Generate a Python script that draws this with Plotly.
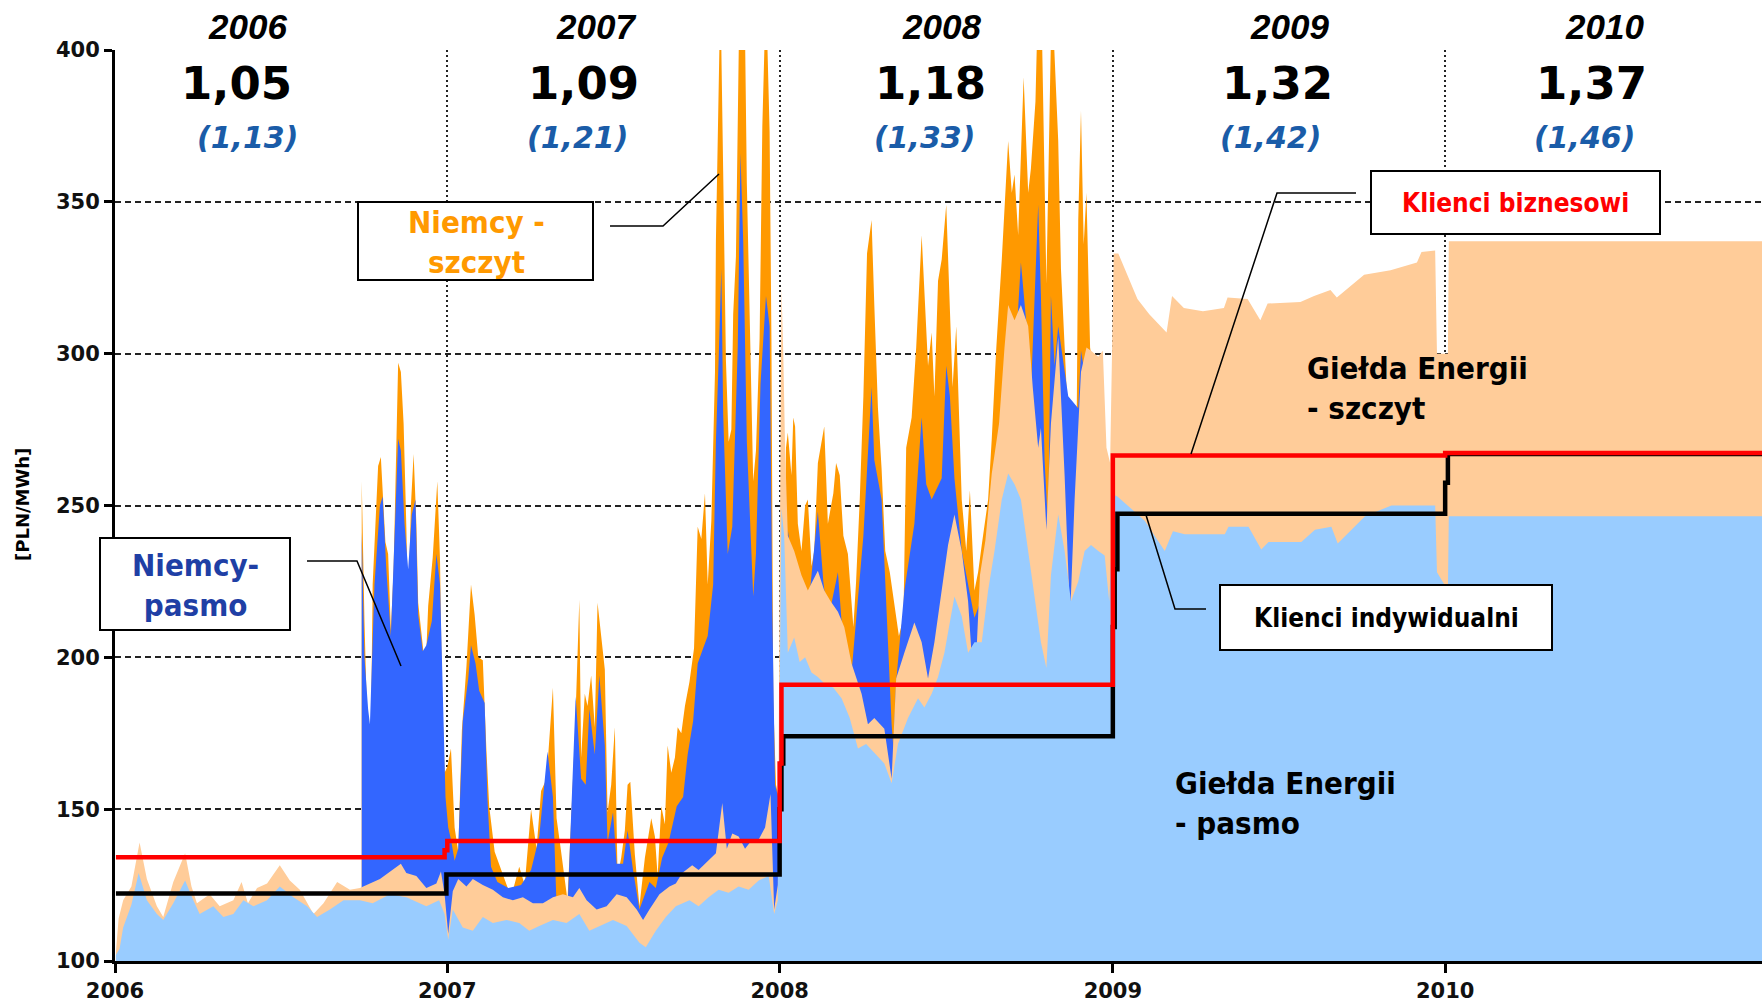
import plotly.graph_objects as go

# ---------------------------------------------------------------------------
# Price series [PLN/MWh]
# ---------------------------------------------------------------------------

# Gielda Energii - pasmo (base)
ge_base_dates = [
    "2006-01-02", "2006-01-06", "2006-01-10", "2006-01-19", "2006-01-27", "2006-02-05",
    "2006-02-16", "2006-02-23", "2006-03-06", "2006-03-19", "2006-03-28", "2006-04-04",
    "2006-04-19", "2006-04-30", "2006-05-11", "2006-05-22", "2006-06-02", "2006-06-17",
    "2006-07-01", "2006-07-16", "2006-07-31", "2006-08-11", "2006-08-25", "2006-09-09",
    "2006-09-27", "2006-10-11", "2006-10-30", "2006-11-17", "2006-12-09", "2006-12-23",
    "2006-12-29", "2007-01-02", "2007-01-07", "2007-01-18", "2007-01-29", "2007-02-09",
    "2007-02-20", "2007-03-07", "2007-03-21", "2007-04-01", "2007-04-12", "2007-04-27",
    "2007-05-12", "2007-05-26", "2007-06-06", "2007-06-17", "2007-07-02", "2007-07-17",
    "2007-07-31", "2007-08-07", "2007-08-18", "2007-08-29", "2007-09-09", "2007-09-24",
    "2007-10-04", "2007-10-15", "2007-10-26", "2007-11-06", "2007-11-17", "2007-11-28",
    "2007-12-09", "2007-12-20", "2007-12-26", "2007-12-30", "2008-01-02", "2008-01-03",
    "2008-01-06", "2008-01-10", "2008-01-17", "2008-01-23", "2008-01-29", "2008-02-05",
    "2008-02-12", "2008-02-19", "2008-02-29", "2008-03-09", "2008-03-18", "2008-03-27",
    "2008-04-05", "2008-04-14", "2008-04-25", "2008-05-03", "2008-05-10", "2008-05-21",
    "2008-06-01", "2008-06-08", "2008-06-16", "2008-06-23", "2008-06-30", "2008-07-11",
    "2008-07-19", "2008-07-26", "2008-08-02", "2008-08-10", "2008-08-17", "2008-08-24",
    "2008-09-01", "2008-09-08", "2008-09-15", "2008-09-22", "2008-09-30", "2008-10-07",
    "2008-10-14", "2008-10-20", "2008-10-25", "2008-11-02", "2008-11-09", "2008-11-16",
    "2008-11-24", "2008-12-01", "2008-12-08", "2008-12-16", "2008-12-23", "2008-12-28",
    "2009-01-02", "2009-01-06", "2009-02-05", "2009-02-27", "2009-03-08", "2009-03-21",
    "2009-05-04", "2009-05-08", "2009-05-30", "2009-06-13", "2009-06-21", "2009-07-27",
    "2009-08-11", "2009-08-29", "2009-09-05", "2009-10-05", "2009-11-03", "2009-12-21",
    "2009-12-23", "2010-01-04", "2010-01-05", "2010-12-31",
]
ge_base = [
    102, 104, 111, 118.5, 129, 120,
    115.5, 113.5, 119, 126.5, 120, 115.5,
    118, 114.5, 115.5, 120, 118, 120,
    124.5, 121, 118, 114.5, 117, 120,
    120, 119, 122, 121, 118, 120,
    115.5, 107, 117, 111, 110, 114.5,
    112.5, 113.5, 112.5, 110, 111.5, 113.5,
    112.5, 115.5, 110, 111.5, 113.5, 111.5,
    106, 104.5, 110, 114.5, 118, 120,
    118, 121, 123.5, 122.5, 124.5, 123.5,
    126.5, 128, 115.5, 120, 230, 249,
    240, 201.5, 206.5, 198.5, 200, 195,
    193.5, 191.5, 190, 186.5, 180, 170,
    171.5, 168.5, 165, 158.5, 171.5, 180,
    186.5, 183.5, 188, 193.5, 201.5, 220,
    213.5, 201.5, 205, 205, 222, 235,
    252, 260.5, 257, 252, 235, 218.5,
    205, 196.5, 227, 247, 235, 218.5,
    225, 235, 237, 235, 233.5, 218.5,
    253.5, 253, 245, 235, 241.5, 240.5,
    240.5, 243, 243, 235.5, 238, 238,
    242, 243, 237.5, 246.5, 250, 250,
    228, 222, 246.5, 246.5,
]

# Gielda Energii - szczyt (peak)
ge_peak_dates = [
    "2006-01-02", "2006-01-05", "2006-01-10", "2006-01-19", "2006-01-28", "2006-02-05",
    "2006-02-16", "2006-02-23", "2006-03-06", "2006-03-19", "2006-03-26", "2006-04-01",
    "2006-04-15", "2006-04-26", "2006-05-11", "2006-05-20", "2006-05-27", "2006-06-06",
    "2006-06-17", "2006-07-01", "2006-07-12", "2006-07-23", "2006-08-07", "2006-08-18",
    "2006-09-02", "2006-09-16", "2006-09-27", "2006-10-19", "2006-11-11", "2006-11-17",
    "2006-11-28", "2006-12-09", "2006-12-20", "2006-12-25", "2006-12-29", "2007-01-02",
    "2007-01-07", "2007-01-13", "2007-01-22", "2007-01-29", "2007-02-09", "2007-02-20",
    "2007-03-03", "2007-03-14", "2007-03-25", "2007-04-05", "2007-04-16", "2007-04-27",
    "2007-05-08", "2007-05-19", "2007-05-26", "2007-06-03", "2007-06-14", "2007-06-25",
    "2007-07-06", "2007-07-17", "2007-07-28", "2007-08-04", "2007-08-11", "2007-08-22",
    "2007-09-02", "2007-09-09", "2007-09-16", "2007-09-27", "2007-10-04", "2007-10-15",
    "2007-10-23", "2007-10-30", "2007-11-04", "2007-11-10", "2007-11-17", "2007-11-24",
    "2007-12-02", "2007-12-09", "2007-12-16", "2007-12-22", "2007-12-26", "2007-12-30",
    "2008-01-02", "2008-01-03", "2008-01-05", "2008-01-07", "2008-01-10", "2008-01-17",
    "2008-01-25", "2008-02-01", "2008-02-12", "2008-02-19", "2008-02-26", "2008-03-05",
    "2008-03-12", "2008-03-20", "2008-03-31", "2008-04-07", "2008-04-14", "2008-04-25",
    "2008-05-03", "2008-05-08", "2008-05-17", "2008-05-28", "2008-06-05", "2008-06-12",
    "2008-06-19", "2008-06-27", "2008-07-04", "2008-07-11", "2008-07-19", "2008-07-26",
    "2008-08-02", "2008-08-08", "2008-08-14", "2008-08-21", "2008-08-29", "2008-09-04",
    "2008-09-08", "2008-09-15", "2008-09-22", "2008-09-30", "2008-10-05", "2008-10-11",
    "2008-10-14", "2008-10-20", "2008-10-25", "2008-11-02", "2008-11-09", "2008-11-15",
    "2008-11-20", "2008-11-27", "2008-12-03", "2008-12-08", "2008-12-16", "2008-12-21",
    "2008-12-25", "2008-12-29", "2009-01-02", "2009-01-07", "2009-01-28", "2009-02-10",
    "2009-03-01", "2009-03-07", "2009-03-20", "2009-04-10", "2009-05-03", "2009-05-07",
    "2009-05-29", "2009-06-12", "2009-06-20", "2009-07-26", "2009-08-10", "2009-08-28",
    "2009-09-04", "2009-10-04", "2009-11-02", "2009-12-01", "2009-12-06", "2009-12-21",
    "2009-12-23", "2010-01-04", "2010-01-05", "2010-12-31",
]
ge_peak = [
    103, 114, 120, 124.5, 139, 127,
    118, 114.5, 126, 135.5, 124.5, 119,
    122, 118, 120, 126, 119, 124,
    125.5, 131.5, 126.5, 123.5, 115.5, 119,
    126, 123.5, 124, 127, 132, 129,
    128, 124, 125.5, 129.5, 122, 109,
    123, 127, 124.5, 127, 125, 123.5,
    121, 120, 121, 119, 119, 121,
    122, 121, 124, 120, 117, 118,
    122, 121, 117, 113.5, 117, 122,
    124.5, 125.5, 129, 131.5, 130, 133,
    135.5, 152, 137, 142, 141, 137,
    140, 140, 144, 155, 117, 125,
    250, 322, 300, 269, 240, 235,
    227, 222, 228.5, 222, 218.5, 215,
    210, 198, 188, 178, 180, 176.5,
    160, 193, 201.5, 211.5, 205, 193,
    205, 222, 237, 247, 235, 218.5,
    186.5, 227, 238.5, 260.5, 277, 302,
    316, 311, 316, 309, 289, 269,
    275.5, 242, 277, 305.5, 260, 213,
    252, 294, 302, 301, 299, 301,
    269, 264, 333, 333, 318, 313,
    307, 319, 315, 314, 315, 318.5,
    318, 311, 316.5, 317, 319, 321,
    318.5, 326, 327.5, 330, 333.5, 334,
    300, 300, 337, 337,
]

# Niemcy - pasmo (German base)
de_base_dates = [
    "2006-09-29", "2006-10-02", "2006-10-06", "2006-10-08", "2006-10-13", "2006-10-19",
    "2006-10-22", "2006-10-26", "2006-10-31", "2006-11-04", "2006-11-08", "2006-11-11",
    "2006-11-15", "2006-11-19", "2006-11-23", "2006-11-27", "2006-11-30", "2006-12-05",
    "2006-12-09", "2006-12-15", "2006-12-20", "2006-12-24", "2006-12-27", "2006-12-30",
    "2007-01-02", "2007-01-05", "2007-01-09", "2007-01-13", "2007-01-18", "2007-01-24",
    "2007-01-27", "2007-02-01", "2007-02-05", "2007-02-11", "2007-02-14", "2007-02-18",
    "2007-02-25", "2007-03-09", "2007-03-23", "2007-04-03", "2007-04-12", "2007-04-21",
    "2007-04-27", "2007-05-01", "2007-05-13", "2007-05-22", "2007-05-28", "2007-06-02",
    "2007-06-06", "2007-06-12", "2007-06-17", "2007-06-23", "2007-06-26", "2007-07-02",
    "2007-07-06", "2007-07-13", "2007-07-18", "2007-07-24", "2007-07-31", "2007-08-11",
    "2007-08-18", "2007-08-25", "2007-09-01", "2007-09-10", "2007-09-17", "2007-09-22",
    "2007-09-28", "2007-10-03", "2007-10-09", "2007-10-14", "2007-10-20", "2007-10-23",
    "2007-10-26", "2007-10-29", "2007-10-31", "2007-11-05", "2007-11-10", "2007-11-16",
    "2007-11-19", "2007-11-22", "2007-11-26", "2007-12-03", "2007-12-06", "2007-12-11",
    "2007-12-17", "2007-12-21", "2007-12-24", "2007-12-27", "2008-01-03", "2008-01-10",
    "2008-01-16", "2008-01-21", "2008-02-01", "2008-02-12", "2008-02-18", "2008-02-23",
    "2008-03-05", "2008-03-09", "2008-03-20", "2008-04-02", "2008-04-11", "2008-04-14",
    "2008-04-22", "2008-04-29", "2008-05-03", "2008-05-05", "2008-05-08", "2008-05-17",
    "2008-05-28", "2008-06-05", "2008-06-10", "2008-06-16", "2008-06-27", "2008-07-02",
    "2008-07-06", "2008-07-11", "2008-07-19", "2008-08-02", "2008-08-17", "2008-09-01",
    "2008-09-08", "2008-09-15", "2008-09-22", "2008-09-28", "2008-10-03", "2008-10-11",
    "2008-10-14", "2008-10-18", "2008-10-22", "2008-10-25", "2008-10-29", "2008-11-02",
    "2008-11-13", "2008-11-24", "2008-11-27", "2008-12-03", "2008-12-08",
]
de_base = [
    241, 200, 183, 178, 224, 250,
    253, 229, 207, 242, 272, 268,
    244, 229, 247, 252, 214, 202,
    204, 212, 234, 224, 191, 154,
    144, 140, 133, 137, 179, 193,
    204, 198, 189, 185, 154, 131,
    126, 124, 125, 130, 141, 169,
    154, 118, 117, 187, 160, 158,
    183, 168, 194, 171, 139, 149,
    132, 132, 143, 130, 117, 126,
    124, 134, 139, 151, 154, 168,
    179, 198, 203, 207, 224, 271,
    298, 328, 280, 234, 243, 302,
    366, 337, 271, 220, 234, 290,
    319, 309, 215, 158, 150, 242,
    227, 215, 215, 248, 225, 212,
    228, 212, 195, 240, 289, 265,
    252, 202, 178, 170, 192, 222,
    244, 279, 257, 252, 259, 296,
    286, 259, 235, 213, 225, 282,
    300, 295, 330, 310, 287, 349,
    319, 265, 242, 319, 296, 309,
    286, 282, 301, 290, 285,
]

# Niemcy - szczyt (German peak)
de_peak_dates = [
    "2006-09-29", "2006-10-02", "2006-10-05", "2006-10-08", "2006-10-11", "2006-10-17",
    "2006-10-20", "2006-10-25", "2006-10-28", "2006-10-31", "2006-11-03", "2006-11-06",
    "2006-11-08", "2006-11-11", "2006-11-14", "2006-11-17", "2006-11-19", "2006-11-22",
    "2006-11-25", "2006-11-28", "2006-11-30", "2006-12-05", "2006-12-08", "2006-12-11",
    "2006-12-16", "2006-12-21", "2006-12-24", "2006-12-26", "2006-12-29", "2007-01-01",
    "2007-01-05", "2007-01-09", "2007-01-13", "2007-01-17", "2007-01-22", "2007-01-27",
    "2007-01-31", "2007-02-04", "2007-02-09", "2007-02-13", "2007-02-16", "2007-02-22",
    "2007-03-01", "2007-03-12", "2007-03-21", "2007-03-27", "2007-04-03", "2007-04-09",
    "2007-04-14", "2007-04-20", "2007-04-27", "2007-05-01", "2007-05-06", "2007-05-13",
    "2007-05-21", "2007-05-26", "2007-05-28", "2007-06-01", "2007-06-04", "2007-06-08",
    "2007-06-12", "2007-06-15", "2007-06-19", "2007-06-23", "2007-06-26", "2007-06-30",
    "2007-07-04", "2007-07-07", "2007-07-11", "2007-07-15", "2007-07-18", "2007-07-21",
    "2007-07-26", "2007-07-31", "2007-08-06", "2007-08-09", "2007-08-13", "2007-08-17",
    "2007-08-20", "2007-08-24", "2007-08-28", "2007-08-31", "2007-09-04", "2007-09-08",
    "2007-09-11", "2007-09-15", "2007-09-19", "2007-09-24", "2007-09-29", "2007-10-03",
    "2007-10-07", "2007-10-11", "2007-10-14", "2007-10-18", "2007-10-22", "2007-10-23",
    "2007-10-25", "2007-10-28", "2007-10-31", "2007-11-03", "2007-11-06", "2007-11-09",
    "2007-11-11", "2007-11-14", "2007-11-18", "2007-11-23", "2007-11-26", "2007-11-29",
    "2007-12-03", "2007-12-06", "2007-12-10", "2007-12-13", "2007-12-17", "2007-12-21",
    "2007-12-23", "2007-12-25", "2007-12-28", "2008-01-03", "2008-01-08", "2008-01-10",
    "2008-01-14", "2008-01-16", "2008-01-18", "2008-01-21", "2008-01-25", "2008-01-29",
    "2008-02-01", "2008-02-05", "2008-02-08", "2008-02-12", "2008-02-19", "2008-02-23",
    "2008-02-29", "2008-03-03", "2008-03-07", "2008-03-11", "2008-03-16", "2008-03-22",
    "2008-03-25", "2008-03-29", "2008-04-02", "2008-04-06", "2008-04-11", "2008-04-14",
    "2008-04-18", "2008-04-22", "2008-04-26", "2008-05-01", "2008-05-06", "2008-05-11",
    "2008-05-16", "2008-05-19", "2008-05-25", "2008-05-30", "2008-06-05", "2008-06-08",
    "2008-06-12", "2008-06-16", "2008-06-19", "2008-06-23", "2008-06-27", "2008-07-02",
    "2008-07-06", "2008-07-09", "2008-07-13", "2008-07-19", "2008-07-24", "2008-07-28",
    "2008-08-02", "2008-08-06", "2008-08-10", "2008-08-17", "2008-08-21", "2008-08-26",
    "2008-09-01", "2008-09-04", "2008-09-08", "2008-09-12", "2008-09-15", "2008-09-19",
    "2008-09-22", "2008-09-25", "2008-09-30", "2008-10-03", "2008-10-08", "2008-10-11",
    "2008-10-14", "2008-10-17", "2008-10-20", "2008-10-24", "2008-10-26", "2008-10-29",
    "2008-11-02", "2008-11-05", "2008-11-09", "2008-11-13", "2008-11-16", "2008-11-20",
    "2008-11-22", "2008-11-24", "2008-11-27", "2008-11-30", "2008-12-03", "2008-12-07",
    "2008-12-08",
]
de_peak = [
    258, 212, 179, 146, 224, 263,
    266, 238, 234, 209, 229, 273,
    297, 294, 277, 243, 214, 250,
    267, 244, 218, 204, 195, 217,
    233, 258, 232, 191, 162, 164,
    170, 144, 136, 176, 197, 224,
    214, 200, 199, 169, 151, 136,
    130, 121, 131, 125, 150, 137,
    156, 160, 190, 147, 136, 120,
    173, 219, 167, 188, 184, 194,
    177, 218, 207, 196, 149, 158,
    177, 128, 134, 143, 158, 159,
    135, 118, 134, 139, 147, 141,
    128, 151, 145, 171, 162, 167,
    177, 175, 184, 192, 203, 243,
    239, 254, 224, 245, 294, 337,
    369, 420, 360, 298, 271, 275,
    313, 332, 420, 430, 356, 313,
    258, 268, 305, 375, 420, 373,
    305, 186, 158, 150, 269, 274,
    260, 279, 276, 244, 235, 250,
    252, 230, 235, 264, 276, 244,
    254, 264, 260, 240, 234, 210,
    225, 252, 286, 333, 344, 316,
    282, 262, 235, 228, 218, 207,
    213, 269, 279, 302, 339, 322,
    296, 307, 286, 324, 331, 349,
    316, 289, 309, 252, 235, 255,
    222, 228, 237, 252, 272, 302,
    331, 348, 370, 353, 359, 339,
    363, 391, 353, 361, 383, 420,
    425, 370, 323, 388, 420, 398,
    370, 328, 302, 277, 269, 279,
    267, 344, 380, 336, 353, 302,
    300,
]

# Tariffs: Klienci biznesowi / Klienci indywidualni
biz_dates = ["2006-01-02", "2006-12-29", "2007-01-01", "2008-01-01", "2008-01-03",
             "2009-01-01", "2010-01-01", "2010-12-31"]
biz_price = [134.2, 136.5, 139.5, 165, 191, 266.5, 267.3, 267.3]

ind_dates = ["2006-01-02", "2006-12-31", "2008-01-01", "2008-01-03", "2008-01-05",
             "2009-01-01", "2009-01-03", "2009-01-06", "2010-01-01", "2010-01-04",
             "2010-12-31"]
ind_price = [122.2, 128.5, 150, 165, 174, 210, 229, 247.3, 257.5, 267, 267]

# Yearly headline figures
years = ["2006", "2007", "2008", "2009", "2010"]
ratio_main = ["1,05", "1,09", "1,18", "1,32", "1,37"]
ratio_alt = ["(1,13)", "(1,21)", "(1,33)", "(1,42)", "(1,46)"]

y_ticks = [100, 150, 200, 250, 300, 350, 400]
x_ticks = ["2006-01-01", "2007-01-01", "2008-01-01", "2009-01-01", "2010-01-01"]

# ---------------------------------------------------------------------------
# Figure geometry (pixels)
# ---------------------------------------------------------------------------
W, H = 1762, 1002
L, R, T, B = 115, 0, 50, 41
PW, PH = W - L - R, H - T - B


def fx(px):
    return (px - L) / PW


def fy(py):
    return (H - B - py) / PH


COND = "DejaVu Sans Condensed, Liberation Sans Narrow, Roboto Condensed, Roboto, sans-serif"
WIDE = "DejaVu Sans, Verdana, sans-serif"

fig = go.Figure()

area_specs = [
    (de_peak_dates, de_peak, "#FF9900", "Niemcy - szczyt"),
    (de_base_dates, de_base, "#3366FF", "Niemcy - pasmo"),
    (ge_peak_dates, ge_peak, "#FFCC99", "Giełda Energii - szczyt"),
    (ge_base_dates, ge_base, "#99CCFF", "Giełda Energii - pasmo"),
]
for xs, ys, col, name in area_specs:
    fig.add_trace(go.Scatter(
        x=xs, y=ys, name=name, mode="lines", fill="tozeroy",
        line=dict(width=0, color=col), fillcolor=col, hoverinfo="skip",
    ))

fig.add_trace(go.Scatter(
    x=ind_dates, y=ind_price, name="Klienci indywidualni", mode="lines",
    line=dict(color="#000000", width=4.5, shape="hv"),
))
fig.add_trace(go.Scatter(
    x=biz_dates, y=biz_price, name="Klienci biznesowi", mode="lines",
    line=dict(color="#FF0000", width=4.5, shape="hv"),
))

shapes = []
annotations = []

# call-out boxes
for (x0, y0, x1, y1) in [(358, 202, 593, 280), (100, 538, 290, 630),
                         (1371, 171, 1660, 234), (1220, 585, 1552, 650)]:
    shapes.append(dict(type="rect", xref="paper", yref="paper",
                       x0=fx(x0), x1=fx(x1), y0=fy(y1), y1=fy(y0),
                       line=dict(color="#000000", width=2), fillcolor="#FFFFFF",
                       layer="above"))

# leader lines
for pts in [[(610, 226), (663, 226), (719, 174)],
            [(307, 561), (357, 561), (401, 666)],
            [(1356, 193), (1277, 193), (1191, 454)],
            [(1206, 609), (1175, 609), (1146, 515)]]:
    path = "M " + " L ".join(f"{fx(px):.5f},{fy(py):.5f}" for px, py in pts)
    shapes.append(dict(type="path", xref="paper", yref="paper", path=path,
                       line=dict(color="#000000", width=1.5), layer="above"))


def label(text, px, py, size, color, family=COND, xanchor="center", align="center"):
    annotations.append(dict(
        text=text, x=fx(px), y=fy(py), xref="paper", yref="paper",
        xanchor=xanchor, yanchor="middle", align=align, showarrow=False,
        font=dict(family=family, size=size, color=color),
    ))


label("<b>Niemcy -<br>szczyt</b>", 476, 242, 31, "#FF9900")
label("<b>Niemcy-<br>pasmo</b>", 195, 585, 31, "#1F3FA5")
label("<b>Klienci biznesowi</b>", 1515, 203, 26, "#FF0000")
label("<b>Klienci indywidualni</b>", 1386, 618, 26, "#000000")
label("<b>Giełda Energii<br>- szczyt</b>", 1305, 388, 31, "#000000",
      xanchor="left", align="left")
label("<b>Giełda Energii<br>- pasmo</b>", 1173, 803, 31, "#000000",
      xanchor="left", align="left")

# yearly headline figures
year_x = [247, 596, 942, 1289, 1604]
main_x = [236, 583, 930, 1277, 1591]
alt_x = [247, 577, 924, 1270, 1584]
for i in range(len(years)):
    label(f"<b><i>{years[i]}</i></b>", year_x[i], 27, 35, "#000000",
          family="Liberation Sans, Arial, sans-serif")
    label(f"<b>{ratio_main[i]}</b>", main_x[i], 84, 45, "#000000", family=WIDE)
    label(f"<b><i>{ratio_alt[i]}</i></b>", alt_x[i], 137, 30, "#1A5CA8", family=WIDE)

# axis title
annotations.append(dict(
    text="<b>[PLN/MWh]</b>", x=fx(23), y=fy(505), xref="paper", yref="paper",
    textangle=-90, showarrow=False, xanchor="center", yanchor="middle",
    font=dict(family=WIDE, size=18, color="#000000"),
))

axis_font = dict(family=WIDE, size=21, color="#111111", weight="bold")

fig.update_layout(
    width=W, height=H,
    margin=dict(l=L, r=R, t=T, b=B, pad=0),
    paper_bgcolor="#FFFFFF", plot_bgcolor="#FFFFFF",
    showlegend=False,
    shapes=shapes, annotations=annotations,
    xaxis=dict(
        type="date", range=["2006-01-01", "2010-12-15"],
        tickvals=x_ticks, ticktext=years,
        ticks="outside", ticklen=9, tickwidth=2.5, tickcolor="#000000",
        showline=True, linewidth=3, linecolor="#000000",
        showgrid=True, gridcolor="#222222", gridwidth=2, griddash="2px,3px",
        zeroline=False, tickfont=axis_font,
    ),
    yaxis=dict(
        range=[100, 400], tickvals=y_ticks,
        ticks="outside", ticklen=8, tickwidth=2.5, tickcolor="#000000",
        showline=True, linewidth=3, linecolor="#000000",
        showgrid=True, gridcolor="#222222", gridwidth=1.5, griddash="6px,4px",
        zeroline=False, tickfont=axis_font,
    ),
)

fig.write_html("out.html")
